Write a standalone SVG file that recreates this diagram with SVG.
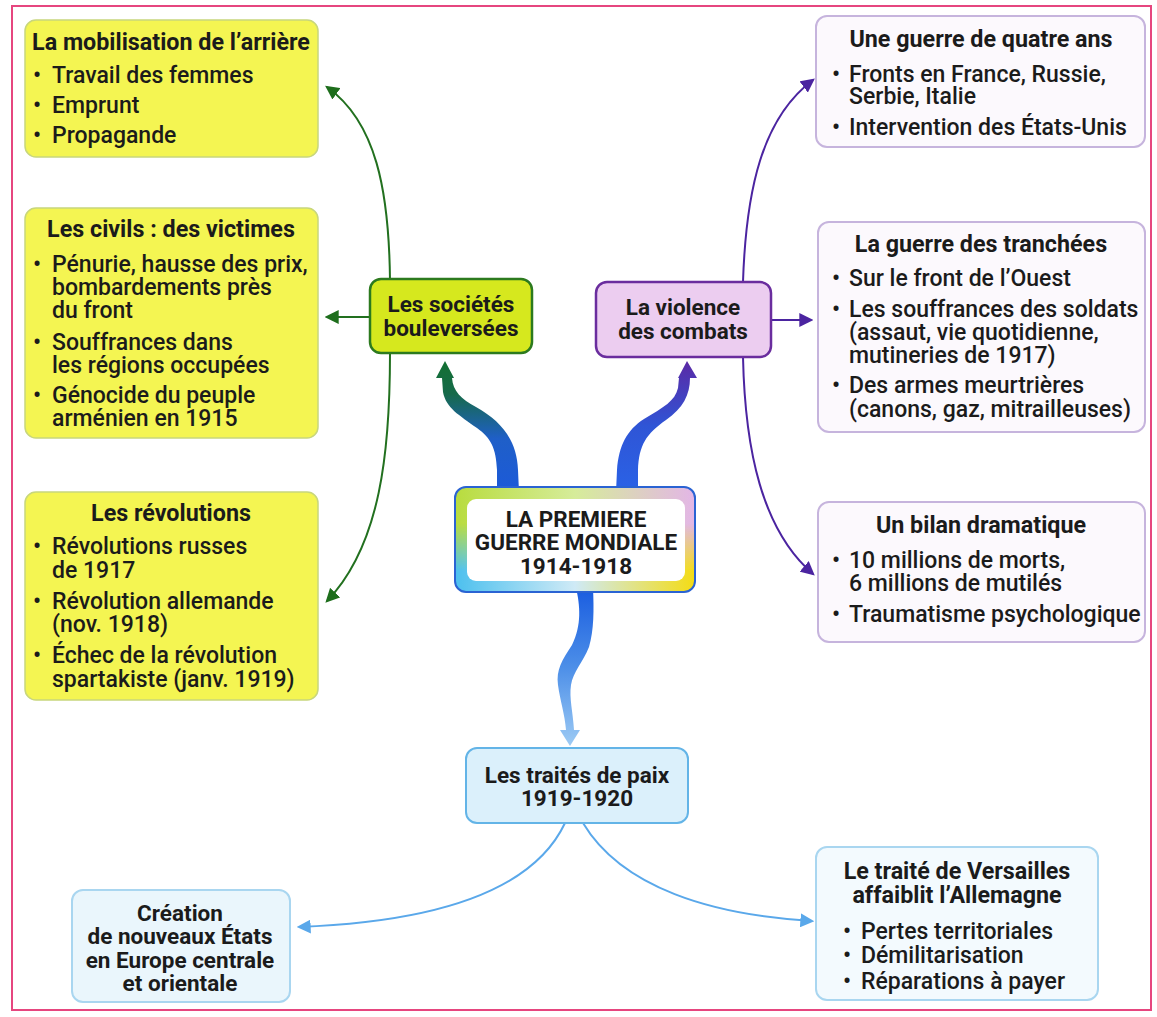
<svg xmlns="http://www.w3.org/2000/svg" width="1157" height="1017" viewBox="0 0 1157 1017">
<style>
.t{font-family:Roboto,"Liberation Sans",sans-serif;font-weight:700;font-size:23.3px;fill:#1b1b1b;text-anchor:middle}
.b{font-family:Roboto,"Liberation Sans",sans-serif;font-weight:500;font-size:23px;fill:#1b1b1b}
.c{font-family:Roboto,"Liberation Sans",sans-serif;font-weight:700;font-size:22.5px;fill:#1b1b1b;text-anchor:middle}
.yel{fill:#f4f552;stroke:#c8d67c;stroke-width:1.5}
.vio{fill:#fcf9fd;stroke:#c6b4dd;stroke-width:2}
.blu{fill:#eaf6fc;stroke:#a9d6f0;stroke-width:2}
.g{fill:none;stroke:#22701f;stroke-width:2}
.p{fill:none;stroke:#4b24a0;stroke-width:2}
.l{fill:none;stroke:#5aa8ea;stroke-width:2}
</style>
<defs>
<marker id="mg" viewBox="0 0 12 12" refX="10" refY="6" markerWidth="14" markerHeight="14" markerUnits="userSpaceOnUse" orient="auto"><path d="M0,0 L12,6 L0,12 Z" fill="#1e6e1c"/></marker>
<marker id="mp" viewBox="0 0 12 12" refX="10" refY="6" markerWidth="14" markerHeight="14" markerUnits="userSpaceOnUse" orient="auto"><path d="M0,0 L12,6 L0,12 Z" fill="#4b24a0"/></marker>
<marker id="ml" viewBox="0 0 12 12" refX="10" refY="6" markerWidth="14" markerHeight="14" markerUnits="userSpaceOnUse" orient="auto"><path d="M0,0 L12,6 L0,12 Z" fill="#5aa8ea"/></marker>
<linearGradient id="gL" gradientUnits="userSpaceOnUse" x1="0" y1="490" x2="0" y2="362"><stop offset="0" stop-color="#1c5ad8"/><stop offset="0.4" stop-color="#1f5fc8"/><stop offset="0.75" stop-color="#166a4a"/><stop offset="1" stop-color="#137032"/></linearGradient>
<linearGradient id="gR" gradientUnits="userSpaceOnUse" x1="0" y1="490" x2="0" y2="362"><stop offset="0" stop-color="#2a62e6"/><stop offset="0.5" stop-color="#2f55d6"/><stop offset="1" stop-color="#5a2aa6"/></linearGradient>
<linearGradient id="gB" gradientUnits="userSpaceOnUse" x1="0" y1="590" x2="0" y2="745"><stop offset="0" stop-color="#1b5ee0"/><stop offset="0.5" stop-color="#4d8fe8"/><stop offset="1" stop-color="#9ccaf4"/></linearGradient>
<linearGradient id="cTop" x1="0" y1="0" x2="1" y2="0"><stop offset="0" stop-color="#b8dc3e"/><stop offset="0.5" stop-color="#d6ec9a"/><stop offset="1" stop-color="#e3b6e6"/></linearGradient>
<linearGradient id="cBot" x1="0" y1="0" x2="1" y2="0"><stop offset="0" stop-color="#4cc0ee"/><stop offset="0.5" stop-color="#cfeaf6"/><stop offset="1" stop-color="#f4dc14"/></linearGradient>
<linearGradient id="cMaskG" x1="0" y1="0" x2="0" y2="1"><stop offset="0.35" stop-color="#000"/><stop offset="0.8" stop-color="#fff"/></linearGradient>
<mask id="cMask"><rect x="455" y="487" width="240" height="105" fill="url(#cMaskG)"/></mask>
</defs>
<rect x="0" y="0" width="1157" height="1017" fill="#ffffff"/>
<rect x="12" y="6" width="1139" height="1004" fill="none" stroke="#e6467f" stroke-width="2"/>

<g id="connectors">
<path class="g" d="M390,280 C389,190 376,122 327,87" marker-end="url(#mg)"/>
<path class="g" d="M370,317 L327,317" marker-end="url(#mg)"/>
<path class="g" d="M390,353 C390,450 381,545 327,601" marker-end="url(#mg)"/>
<path class="p" d="M743,282 C746,190 762,118 813,80" marker-end="url(#mp)"/>
<path class="p" d="M770,320 L811,320" marker-end="url(#mp)"/>
<path class="p" d="M743,357 C745,450 762,530 813,574" marker-end="url(#mp)"/>
<path class="l" d="M565,823 C532,893 432,922 299,927" marker-end="url(#ml)"/>
<path class="l" d="M583,823 C622,888 712,915 812,921" marker-end="url(#ml)"/>
<path fill="url(#gL)" d="M497,492 L497,470 C496,448 491,438 477,428 C459,415 446,408 443,392 L442,378 L436,378 L445,361 L454,378 L452,378 C453,391 461,399 476,407 C501,421 517,440 518,470 L519,492 Z"/>
<path fill="url(#gR)" d="M616,492 L617,470 C619,445 627,430 644,419 C664,407 675,401 678,388 L679,378 L678,378 L687,361 L697,378 L690,378 C690,395 683,408 666,420 C646,434 639,445 638,470 L638,492 Z"/>
<path fill="url(#gB)" d="M576,588 C580,605 582,625 572,645 C562,660 556,670 558,685 C560,700 565,715 566,730 L560,730 L570,746 L580,730 L574,730 C573,712 569,698 571,685 C573,672 583,662 589,647 C594,630 594,610 593,588 Z"/>
</g>

<g id="n-mobilisation">
<rect class="yel" x="25" y="20" width="293" height="137" rx="11"/>
<text class="t" x="171" y="50">La mobilisation de l’arrière</text>
<text class="b" x="33" y="83">•</text><text class="b" x="52" y="83">Travail des femmes</text>
<text class="b" x="33" y="113">•</text><text class="b" x="52" y="113">Emprunt</text>
<text class="b" x="33" y="143">•</text><text class="b" x="52" y="143">Propagande</text>
</g>

<g id="n-civils">
<rect class="yel" x="25" y="208" width="293" height="230" rx="11"/>
<text class="t" x="171" y="237">Les civils : des victimes</text>
<text class="b" x="33" y="272">•</text><text class="b" x="52" y="272">Pénurie, hausse des prix,</text>
<text class="b" x="52" y="295">bombardements près</text>
<text class="b" x="52" y="318">du front</text>
<text class="b" x="33" y="350">•</text><text class="b" x="52" y="350">Souffrances dans</text>
<text class="b" x="52" y="373">les régions occupées</text>
<text class="b" x="33" y="403">•</text><text class="b" x="52" y="403">Génocide du peuple</text>
<text class="b" x="52" y="426">arménien en 1915</text>
</g>

<g id="n-revolutions">
<rect class="yel" x="25" y="492" width="293" height="208" rx="11"/>
<text class="t" x="171" y="521">Les révolutions</text>
<text class="b" x="33" y="554">•</text><text class="b" x="52" y="554">Révolutions russes</text>
<text class="b" x="52" y="578">de 1917</text>
<text class="b" x="33" y="609">•</text><text class="b" x="52" y="609">Révolution allemande</text>
<text class="b" x="52" y="632">(nov. 1918)</text>
<text class="b" x="33" y="663">•</text><text class="b" x="52" y="663">Échec de la révolution</text>
<text class="b" x="52" y="687">spartakiste (janv. 1919)</text>
</g>

<g id="n-societes">
<rect x="370" y="279" width="162" height="74" rx="11" fill="#d6e81e" stroke="#2c7a1e" stroke-width="2.5"/>
<text class="c" x="451" y="312">Les sociétés</text>
<text class="c" x="451" y="336">bouleversées</text>
</g>

<g id="n-violence">
<rect x="596" y="282" width="175" height="75" rx="11" fill="#eccdf0" stroke="#6a2d9e" stroke-width="2.5"/>
<text class="c" x="683" y="315">La violence</text>
<text class="c" x="683" y="339">des combats</text>
</g>

<g id="n-quatre-ans">
<rect class="vio" x="816" y="16" width="329" height="131" rx="11"/>
<text class="t" x="981" y="47">Une guerre de quatre ans</text>
<text class="b" x="832" y="82">•</text><text class="b" x="849" y="82">Fronts en France, Russie,</text>
<text class="b" x="849" y="104">Serbie, Italie</text>
<text class="b" x="832" y="135">•</text><text class="b" x="849" y="135">Intervention des États-Unis</text>
</g>

<g id="n-tranchees">
<rect class="vio" x="818" y="222" width="327" height="210" rx="11"/>
<text class="t" x="981" y="252">La guerre des tranchées</text>
<text class="b" x="832" y="286">•</text><text class="b" x="849" y="286">Sur le front de l’Ouest</text>
<text class="b" x="832" y="317">•</text><text class="b" x="849" y="317">Les souffrances des soldats</text>
<text class="b" x="849" y="340">(assaut, vie quotidienne,</text>
<text class="b" x="849" y="363">mutineries de 1917)</text>
<text class="b" x="832" y="393">•</text><text class="b" x="849" y="393">Des armes meurtrières</text>
<text class="b" x="849" y="417">(canons, gaz, mitrailleuses)</text>
</g>

<g id="n-bilan">
<rect class="vio" x="818" y="502" width="327" height="140" rx="11"/>
<text class="t" x="981" y="533">Un bilan dramatique</text>
<text class="b" x="832" y="568">•</text><text class="b" x="849" y="568">10 millions de morts,</text>
<text class="b" x="849" y="591">6 millions de mutilés</text>
<text class="b" x="832" y="622">•</text><text class="b" x="849" y="622">Traumatisme psychologique</text>
</g>

<g id="n-centre">
<rect x="455" y="487" width="240" height="105" rx="11" fill="url(#cTop)"/>
<rect x="455" y="487" width="240" height="105" rx="11" fill="url(#cBot)" mask="url(#cMask)"/>
<rect x="455" y="487" width="240" height="105" rx="11" fill="none" stroke="#2a63d3" stroke-width="2"/>
<rect x="467" y="499" width="218" height="82" rx="9" fill="#ffffff"/>
<text class="c" x="576" y="527" font-size="22">LA PREMIERE</text>
<text class="c" x="576" y="550" font-size="22">GUERRE MONDIALE</text>
<text class="c" x="576" y="574" font-size="22">1914-1918</text>
</g>

<g id="n-traites">
<rect x="466" y="748" width="222" height="75" rx="11" fill="#dbf0fb" stroke="#63b4e7" stroke-width="2"/>
<text class="c" x="577" y="783">Les traités de paix</text>
<text class="c" x="577" y="806">1919-1920</text>
</g>

<g id="n-creation">
<rect class="blu" x="72" y="890" width="218" height="112" rx="11"/>
<text class="c" x="180" y="921" font-size="23.3">Création</text>
<text class="c" x="180" y="944" font-size="23.3">de nouveaux États</text>
<text class="c" x="180" y="968" font-size="23.3">en Europe centrale</text>
<text class="c" x="180" y="991" font-size="23.3">et orientale</text>
</g>

<g id="n-versailles">
<rect class="blu" x="816" y="847" width="282" height="153" rx="11" style="fill:#f3fafe"/>
<text class="t" x="957" y="879" font-size="24">Le traité de Versailles</text>
<text class="t" x="957" y="903" font-size="24">affaiblit l’Allemagne</text>
<text class="b" x="843" y="939" font-size="24.5">•</text><text class="b" x="861" y="939" font-size="24.5">Pertes territoriales</text>
<text class="b" x="843" y="963" font-size="24.5">•</text><text class="b" x="861" y="963" font-size="24.5">Démilitarisation</text>
<text class="b" x="843" y="989" font-size="24.5">•</text><text class="b" x="861" y="989" font-size="24.5">Réparations à payer</text>
</g>
</svg>
